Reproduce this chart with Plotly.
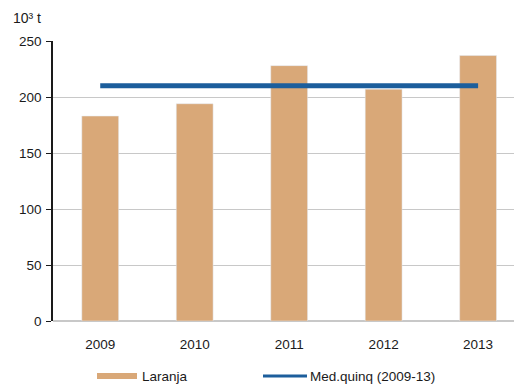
import plotly.graph_objects as go

years = ["2009", "2010", "2011", "2012", "2013"]
laranja = [183, 194, 228, 207, 237]
media = [210, 210, 210, 210, 210]
y_ticks = [0, 50, 100, 150, 200, 250]

bar_color = "#D9A878"
line_color = "#1C5E9C"
font = "Liberation Sans, Arial, sans-serif"
fs = 13.5

fig = go.Figure()
fig.add_trace(go.Bar(x=years, y=laranja, marker_color=bar_color, width=0.39,
                     name="Laranja", showlegend=False))
fig.add_trace(go.Scatter(x=years, y=media, mode="lines",
                         line=dict(color=line_color, width=5),
                         name="Med.quinq (2009-13)", showlegend=False))

fig.update_layout(
    width=514, height=387,
    margin=dict(l=53, r=0, t=41, b=66),
    plot_bgcolor="white", paper_bgcolor="white",
    font=dict(family=font, size=fs, color="#1a1a1a"),
)
fig.update_xaxes(range=[-0.5, 4.38], showgrid=False, showline=False,
                 ticks="", tickfont=dict(size=fs), ticklabelstandoff=13)
fig.update_yaxes(range=[0, 250], tickvals=y_ticks, showgrid=True,
                 gridcolor="#C8C8C8", gridwidth=1, showline=True,
                 linecolor="#1a1a1a", linewidth=1.5, ticks="outside",
                 ticklen=5, tickcolor="#1a1a1a", zeroline=True,
                 zerolinecolor="#C8C8C8", tickfont=dict(size=fs),
                 ticklabelstandoff=2)

pw, ph = 514 - 53, 387 - 41 - 66
def px(x):
    return (x - 53) / pw
def py(y):
    return (387 - 66 - y) / ph

# y-axis unit label
fig.add_annotation(x=px(11), y=py(18), xref="paper", yref="paper", text="10³ t",
                   showarrow=False, xanchor="left", yanchor="middle",
                   font=dict(size=14))

# custom legend
fig.add_shape(type="rect", xref="paper", yref="paper",
              x0=px(97), x1=px(137), y0=py(379), y1=py(373),
              fillcolor=bar_color, line=dict(width=0))
fig.add_annotation(x=px(140), y=py(376), xref="paper", yref="paper",
                   text="Laranja", showarrow=False, xanchor="left",
                   yanchor="middle", font=dict(size=fs))
fig.add_shape(type="line", xref="paper", yref="paper",
              x0=px(263), x1=px(307), y0=py(376), y1=py(376),
              line=dict(color=line_color, width=3))
fig.add_annotation(x=px(308), y=py(376), xref="paper", yref="paper",
                   text="Med.quinq (2009-13)", showarrow=False, xanchor="left",
                   yanchor="middle", font=dict(size=fs))

fig.write_html("out.html")
